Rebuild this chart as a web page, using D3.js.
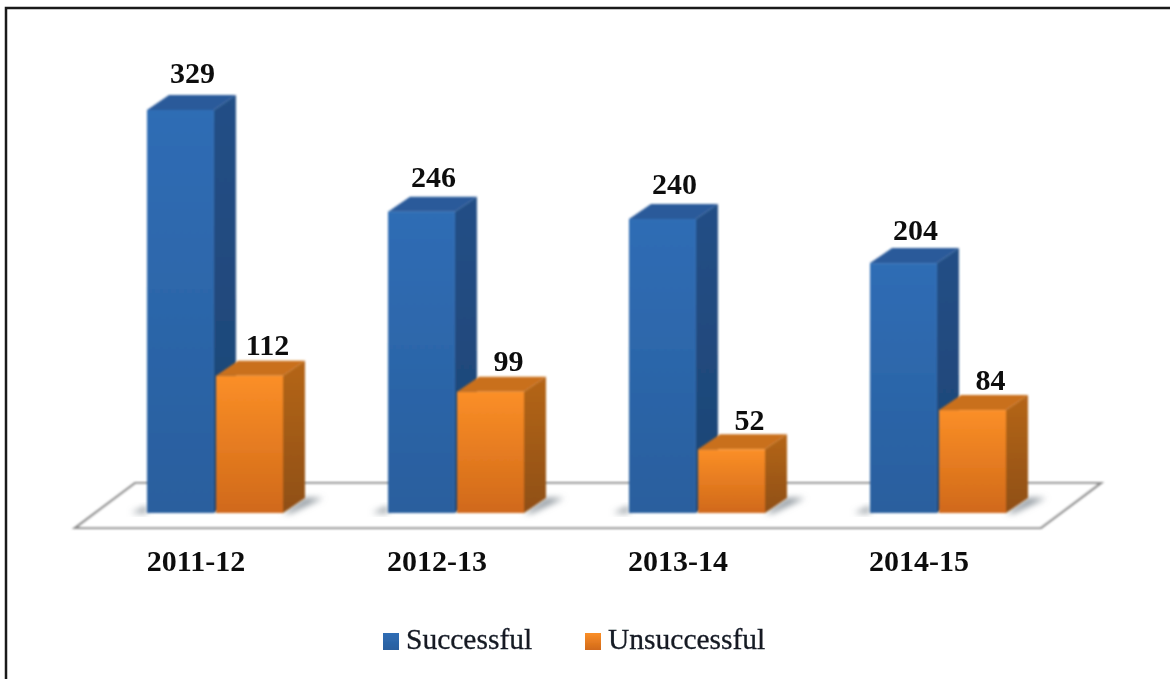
<!DOCTYPE html>
<html lang="en">
<head>
<meta charset="UTF-8">
<title>Successful and unsuccessful</title>
<script src="https://cdn.jsdelivr.net/npm/d3@7"></script>
<style>
    html, body { margin: 0; padding: 0; background: #fff; }
    svg { display: block; }
    text { font-family: "Liberation Serif", serif; fill: #111; }
    .value, .year { font-weight: bold; font-size: 30px; }
    .legend { font-size: 29.5px; fill: #141a24; stroke: #141a24; stroke-width: 0.3px; }
</style>
</head>
<body>
<svg id="chart" width="1170" height="679"></svg>
<script>
    var years = ["2011-12", "2012-13", "2013-14", "2014-15"];
    var seriesNames = ["Successful", "Unsuccessful"];
    var successful = [329, 246, 240, 204];
    var unsuccessful = [112, 99, 52, 84];

    var svg = d3.select("#chart");
    var defs = svg.append("defs");

    // depth of the fake 3d boxes
    var dx = 22, dy = 15;
    var baseY = 513;

    var x = d3.scaleBand().domain(years).range([147, 1111]);
    var xs = d3.scaleBand().domain(seriesNames).range([0, 136]).paddingInner(0.03);
    var y = d3.scaleLinear().domain([0, 329]).range([baseY, 110]);
    // labels drift a bit further from the taller bars
    var labelY = d3.scaleLinear().domain([0, 329]).range([baseY - 18, 83]);
    var labelShift = [12, 18];

    var colors = {
        Successful: { top: "#2f6db5", bottom: "#2a5f9e", roof: "#2a5a9a", sideTop: "#234f86", sideBottom: "#1d4474" },
        Unsuccessful: { top: "#fb8f27", bottom: "#d0691a", roof: "#c9701c", sideTop: "#b5661a", sideBottom: "#8f4f14" }
    };

    function gradient(id, c1, c2) {
        var g = defs.append("linearGradient").attr("id", id)
            .attr("x1", 0).attr("y1", 0).attr("x2", 0).attr("y2", 1);
        g.append("stop").attr("offset", "0%").attr("stop-color", c1);
        g.append("stop").attr("offset", "100%").attr("stop-color", c2);
    }
    seriesNames.forEach(function (s, i) {
        gradient("front" + i, colors[s].top, colors[s].bottom);
        gradient("side" + i, colors[s].sideTop, colors[s].sideBottom);
    });

    var soft = defs.append("filter").attr("id", "soft");
    soft.append("feGaussianBlur").attr("stdDeviation", 0.8);
    var softText = defs.append("filter").attr("id", "softText");
    softText.append("feGaussianBlur").attr("stdDeviation", 0.5);
    var softer = defs.append("filter").attr("id", "softer")
        .attr("x", "-50%").attr("y", "-50%").attr("width", "200%").attr("height", "200%");
    softer.append("feGaussianBlur").attr("stdDeviation", 3);

    // outer frame of the picture, only left and top are dark
    svg.append("path")
        .attr("d", "M6,679V8H1170")
        .attr("fill", "none").attr("stroke", "#1a1a1a").attr("stroke-width", 2.5);

    // floor
    var x0 = x(years[0]) - 72, x1 = x0 + 966;
    var floorY = 528;
    svg.append("path")
        .attr("d", d3.line()([[x0, floorY], [x1, floorY], [x1 + 60, floorY - 45], [x0 + 60, floorY - 45]]) + "Z")
        .attr("fill", "#fff").attr("stroke", "#8c8c8c").attr("stroke-width", 2.2)
        .attr("filter", "url(#soft)");

    var rows = [];
    years.forEach(function (yr, i) {
        rows.push({ year: yr, series: 0, value: successful[i] });
        rows.push({ year: yr, series: 1, value: unsuccessful[i] });
    });

    function left(d) { return x(d.year) + xs(seriesNames[d.series]); }

    // shadows on the floor, left of the blue box and right of the orange one
    svg.append("g").selectAll("path").data(rows).enter().append("path")
        .attr("d", function (d) {
            var l = left(d), r = l + xs.bandwidth();
            if (d.series === 0) {
                return d3.line()([[l, baseY], [l - 16, baseY], [l, baseY - 7]]) + "Z";
            }
            return d3.line()([[r, baseY], [r + 8, baseY], [r + 40, baseY - 15], [r + dx, baseY - 15]]) + "Z";
        })
        .attr("fill", "#8f979e").attr("filter", "url(#softer)");

    var bars = svg.append("g").selectAll("g").data(rows).enter().append("g")
        .attr("filter", "url(#soft)");

    bars.append("path") // side
        .attr("d", function (d) {
            var r = left(d) + xs.bandwidth();
            return d3.line()([[r, y(d.value)], [r + dx, y(d.value) - dy], [r + dx, baseY - dy], [r, baseY]]) + "Z";
        })
        .attr("fill", function (d) { return "url(#side" + d.series + ")"; });

    bars.append("path") // roof
        .attr("d", function (d) {
            var l = left(d), r = l + xs.bandwidth();
            return d3.line()([[l, y(d.value)], [r, y(d.value)], [r + dx, y(d.value) - dy], [l + dx, y(d.value) - dy]]) + "Z";
        })
        .attr("fill", function (d) { return colors[seriesNames[d.series]].roof; });

    bars.append("rect") // front
        .attr("x", left)
        .attr("y", function (d) { return y(d.value); })
        .attr("width", xs.bandwidth())
        .attr("height", function (d) { return baseY - y(d.value); })
        .attr("fill", function (d) { return "url(#front" + d.series + ")"; });

    svg.append("g").attr("filter", "url(#softText)")
        .selectAll("text").data(rows).enter().append("text")
        .attr("class", "value")
        .attr("text-anchor", "middle")
        .attr("x", function (d) { return left(d) + xs.bandwidth() / 2 + labelShift[d.series]; })
        .attr("y", function (d) { return labelY(d.value); })
        .text(function (d) { return d.value; });

    svg.append("g").attr("filter", "url(#softText)")
        .selectAll("text").data(years).enter().append("text")
        .attr("class", "year")
        .attr("text-anchor", "middle")
        .attr("x", function (d) { return x(d) + 49; })
        .attr("y", 571)
        .text(function (d) { return d; });

    // legend
    var legendX = [383, 585];
    var legend = svg.append("g").attr("filter", "url(#softText)")
        .selectAll("g").data(seriesNames).enter().append("g");
    legend.append("rect")
        .attr("x", function (d, i) { return legendX[i]; })
        .attr("y", 633).attr("width", 16).attr("height", 17)
        .attr("fill", function (d, i) { return "url(#front" + i + ")"; });
    legend.append("text")
        .attr("class", "legend")
        .attr("x", function (d, i) { return legendX[i] + 23; })
        .attr("y", 649)
        .text(function (d) { return d; });
</script>
</body>
</html>
